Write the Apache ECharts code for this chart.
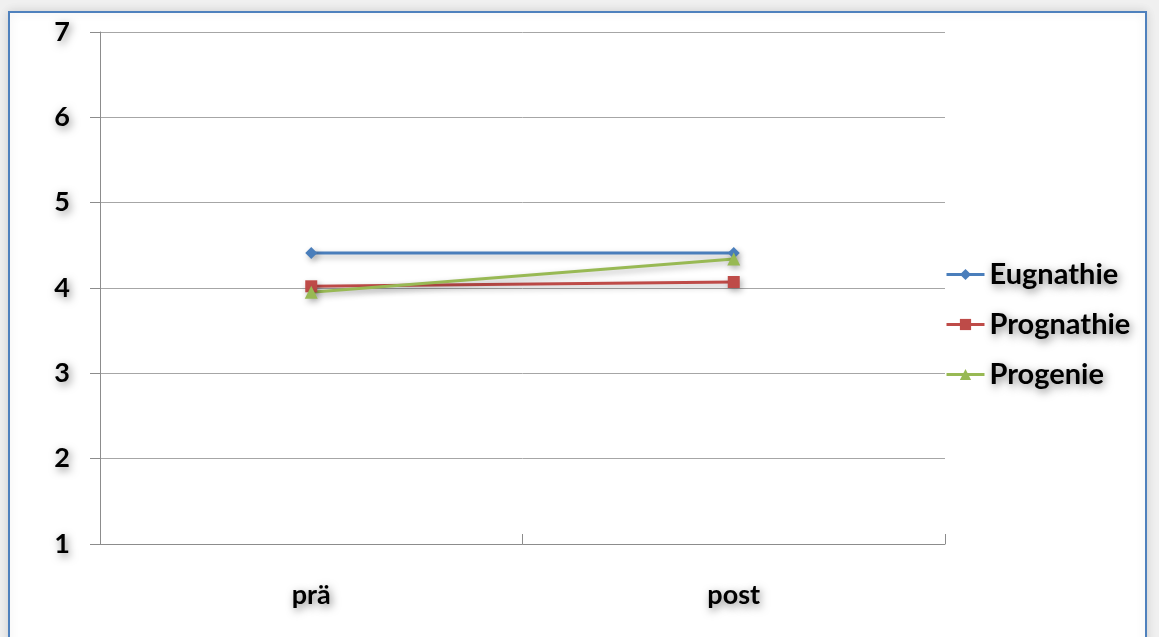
<!DOCTYPE html>
<html>
<head>
<meta charset="utf-8">
<script src="https://cdn.jsdelivr.net/npm/echarts@6/dist/echarts.min.js"></script>
<style>
  html, body { margin: 0; padding: 0; background: #f0f0f0; }
  #chart { width: 1159px; height: 637px; }
</style>
</head>
<body>
<div id="chart"></div>
<script>
// Time points and mean values per group
const categories = ['prä', 'post'];
const eugnathie = [4.41, 4.41];
const prognathie = [4.02, 4.07];
const progenie = [3.95, 4.34];
const yTicks = { min: 1, max: 7, step: 1 };

const FONT = 'Lato, "Noto Sans", sans-serif';
const textShadow = {
  textShadowColor: 'rgba(0,0,0,0.5)',
  textShadowBlur: 8,
  textShadowOffsetX: 2,
  textShadowOffsetY: 3
};
const lineShadow = {
  shadowColor: 'rgba(0,0,0,0.3)',
  shadowBlur: 6,
  shadowOffsetX: 2,
  shadowOffsetY: 3
};

function makeSeries(name, data, color, symbol, size) {
  return {
    name: name,
    type: 'line',
    data: data,
    symbol: symbol,
    symbolSize: size,
    showAllSymbol: true,
    lineStyle: Object.assign({ color: color, width: 3 }, lineShadow),
    itemStyle: Object.assign({ color: color }, lineShadow),
    emphasis: { disabled: true },
    animation: false
  };
}

const chart = echarts.init(document.getElementById('chart'));
chart.setOption({
  backgroundColor: '#f0f0f0',
  animation: false,
  graphic: [{
    type: 'rect',
    z: -10,
    shape: { x: 9, y: 12, width: 1137, height: 660 },
    style: {
      fill: '#ffffff',
      stroke: '#4f81bd',
      lineWidth: 2,
      shadowColor: 'rgba(0,0,0,0.12)',
      shadowBlur: 10
    }
  }],
  grid: { left: 100, right: 214, top: 32, bottom: 93 },
  xAxis: {
    type: 'category',
    data: categories,
    boundaryGap: true,
    axisLine: { lineStyle: { color: '#8c8c8c', width: 1 } },
    axisTick: { show: true, inside: true, length: 10, lineStyle: { color: '#8c8c8c' } },
    axisLabel: Object.assign({
      color: '#000',
      fontFamily: FONT,
      fontWeight: 'bold',
      fontSize: 27,
      margin: 38
    }, textShadow)
  },
  yAxis: {
    type: 'value',
    min: yTicks.min,
    max: yTicks.max,
    interval: yTicks.step,
    axisLine: { show: true, lineStyle: { color: '#8c8c8c', width: 1 } },
    axisTick: { show: true, length: 10, lineStyle: { color: '#8c8c8c' } },
    splitLine: { lineStyle: { color: '#a6a6a6', width: 1 } },
    axisLabel: Object.assign({
      color: '#000',
      fontFamily: FONT,
      fontWeight: 'bold',
      fontSize: 27,
      margin: 30
    }, textShadow)
  },
  legend: {
    orient: 'vertical',
    left: 945,
    top: 260,
    padding: 0,
    itemWidth: 38,
    itemHeight: 14,
    itemGap: 21,
    selectedMode: false,
    lineStyle: { width: 3 },
    textStyle: Object.assign({
      color: '#000',
      fontFamily: FONT,
      fontWeight: 'bold',
      fontSize: 29,
      lineHeight: 29
    }, textShadow),
    data: ['Eugnathie', 'Prognathie', 'Progenie']
  },
  series: [
    makeSeries('Eugnathie', eugnathie, '#4a7ebb', 'diamond', 12),
    makeSeries('Prognathie', prognathie, '#be4b48', 'rect', 12),
    makeSeries('Progenie', progenie, '#98b954', 'triangle', 13)
  ]
});
</script>
</body>
</html>
